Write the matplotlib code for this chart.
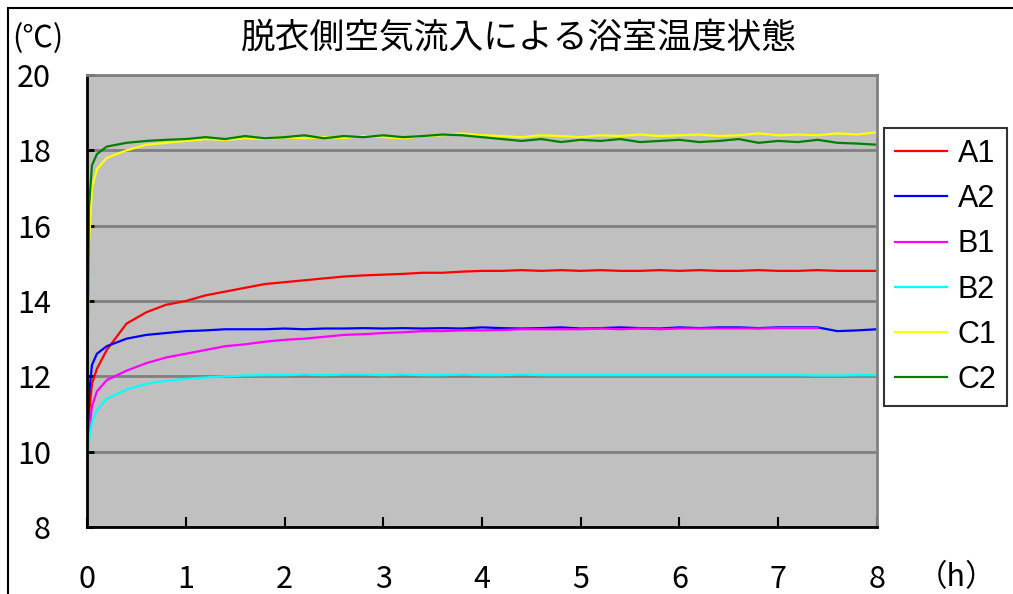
import matplotlib.pyplot as plt
import numpy as np
from matplotlib.patches import Rectangle
from matplotlib import font_manager

plt.rcParams['font.family'] = ['Noto Sans CJK JP', 'DejaVu Sans']
names_avail = {f.name for f in font_manager.fontManager.ttflist}
num_font = 'Liberation Sans Narrow' if 'Liberation Sans Narrow' in names_avail else 'Noto Sans CJK JP'

# time (h)
t = [0, 0.02, 0.05, 0.1, 0.2, 0.4, 0.6, 0.8, 1.0, 1.2, 1.4, 1.6, 1.8, 2.0,
     2.2, 2.4, 2.6, 2.8, 3.0, 3.2, 3.4, 3.6, 3.8, 4.0, 4.2, 4.4, 4.6, 4.8,
     5.0, 5.2, 5.4, 5.6, 5.8, 6.0, 6.2, 6.4, 6.6, 6.8, 7.0, 7.2, 7.4, 7.6,
     7.8, 8.0]

a1 = [9.9, 11.0, 11.8, 12.2, 12.7, 13.4, 13.7, 13.9, 14.0, 14.15, 14.25, 14.35,
      14.45, 14.5, 14.55, 14.6, 14.65, 14.68, 14.7, 14.72, 14.75, 14.75, 14.78,
      14.8, 14.8, 14.82, 14.8, 14.82, 14.8, 14.82, 14.8, 14.8, 14.82, 14.8,
      14.82, 14.8, 14.8, 14.82, 14.8, 14.8, 14.82, 14.8, 14.8, 14.8]
a2 = [9.8, 11.5, 12.3, 12.6, 12.8, 13.0, 13.1, 13.15, 13.2, 13.22, 13.25, 13.25,
      13.25, 13.27, 13.25, 13.27, 13.27, 13.28, 13.27, 13.28, 13.27, 13.28,
      13.27, 13.3, 13.28, 13.27, 13.28, 13.3, 13.27, 13.28, 13.3, 13.28, 13.27,
      13.3, 13.28, 13.3, 13.3, 13.28, 13.3, 13.3, 13.3, 13.2, 13.22, 13.25]
b1 = [9.8, 10.5, 11.2, 11.6, 11.9, 12.15, 12.35, 12.5, 12.6, 12.7, 12.8, 12.85,
      12.92, 12.97, 13.0, 13.05, 13.1, 13.12, 13.15, 13.17, 13.2, 13.2, 13.22,
      13.22, 13.23, 13.25, 13.25, 13.25, 13.25, 13.27, 13.25, 13.27, 13.25,
      13.27, 13.27, 13.27, 13.27, 13.27, 13.28, 13.28, 13.28, np.nan, np.nan,
      np.nan]
b2 = [9.7, 10.3, 10.8, 11.1, 11.4, 11.65, 11.8, 11.88, 11.93, 11.97, 12.0,
      12.02, 12.03, 12.03, 12.05, 12.03, 12.05, 12.05, 12.03, 12.05, 12.03,
      12.03, 12.05, 12.03, 12.03, 12.05, 12.03, 12.03, 12.03, 12.03, 12.03,
      12.03, 12.03, 12.03, 12.03, 12.03, 12.03, 12.03, 12.03, 12.03, 12.02,
      12.02, 12.03, 12.03]
c1 = [10.0, 15.5, 17.0, 17.5, 17.8, 18.0, 18.15, 18.2, 18.25, 18.3, 18.28,
      18.32, 18.3, 18.35, 18.32, 18.35, 18.33, 18.38, 18.35, 18.32, 18.38,
      18.4, 18.45, 18.4, 18.38, 18.35, 18.4, 18.38, 18.35, 18.4, 18.38, 18.42,
      18.38, 18.4, 18.42, 18.38, 18.4, 18.45, 18.4, 18.42, 18.4, 18.45, 18.42,
      18.48]
c2 = [10.0, 16.5, 17.6, 17.9, 18.1, 18.2, 18.25, 18.28, 18.3, 18.35, 18.3,
      18.38, 18.32, 18.35, 18.4, 18.32, 18.38, 18.35, 18.4, 18.35, 18.38, 18.42,
      18.4, 18.35, 18.3, 18.25, 18.3, 18.22, 18.28, 18.25, 18.3, 18.22, 18.25,
      18.28, 18.22, 18.25, 18.3, 18.2, 18.25, 18.22, 18.28, 18.2, 18.18, 18.15]

names = ['A1', 'A2', 'B1', 'B2', 'C1', 'C2']
series = [a1, a2, b1, b2, c1, c2]
colors = ['#ff0000', '#0000ff', '#ff00ff', '#00ffff', '#ffff00', '#008000']

fig = plt.figure(figsize=(10.13, 5.94), dpi=100)
ax = fig.add_axes([0.0859, 0.1128, 0.7798, 0.7609])
ax.set_facecolor('#c0c0c0')

for name, y, c in zip(names, series, colors):
    ax.plot(t, y, color=c, lw=1.6, label=name)

ax.set_xlim(0, 8)
ax.set_ylim(8, 20)
ax.set_xticks(range(0, 9))
ax.set_yticks(range(8, 21, 2))
ax.yaxis.grid(True, color='#808080', lw=2)
ax.set_axisbelow(True)

ax.tick_params(axis='x', direction='in', length=7, width=1.5, pad=27)
ax.tick_params(axis='y', direction='in', length=5, width=2, pad=26)
for lab in ax.get_xticklabels() + ax.get_yticklabels():
    lab.set_fontfamily(num_font)
    lab.set_fontsize(22)

for s in ['left', 'bottom']:
    ax.spines[s].set_color('black')
    ax.spines[s].set_linewidth(2)
for s in ['top', 'right']:
    ax.spines[s].set_color('#808080')
    ax.spines[s].set_linewidth(2)

fig.text(0.512, 0.936, '脱衣側空気流入による浴室温度状態', ha='center',
         va='center', fontsize=25)
fig.text(0.012, 0.936, '(℃)', ha='left', va='center', fontsize=22)
fig.text(0.905, 0.027, '（h）', ha='left', va='center', fontsize=22)

leg = fig.legend(loc='upper left', bbox_to_anchor=(884 / 1013, 1 - 128 / 594),
                 prop={'family': 'Liberation Sans', 'size': 22},
                 frameon=True, fancybox=False, borderpad=0.35, borderaxespad=0,
                 handlelength=1.7, labelspacing=0.5, handletextpad=0.36)
leg.get_frame().set_edgecolor('black')
leg.get_frame().set_linewidth(1.5)
for line in leg.get_lines():
    line.set_linewidth(1.6)

fig.add_artist(Rectangle((8 / 1013, -0.05), 1.1, 1 - 8 / 594 + 0.05,
                         transform=fig.transFigure, fill=False,
                         edgecolor='black', lw=1.5))

fig.savefig('out.png', dpi=100, facecolor='white')
